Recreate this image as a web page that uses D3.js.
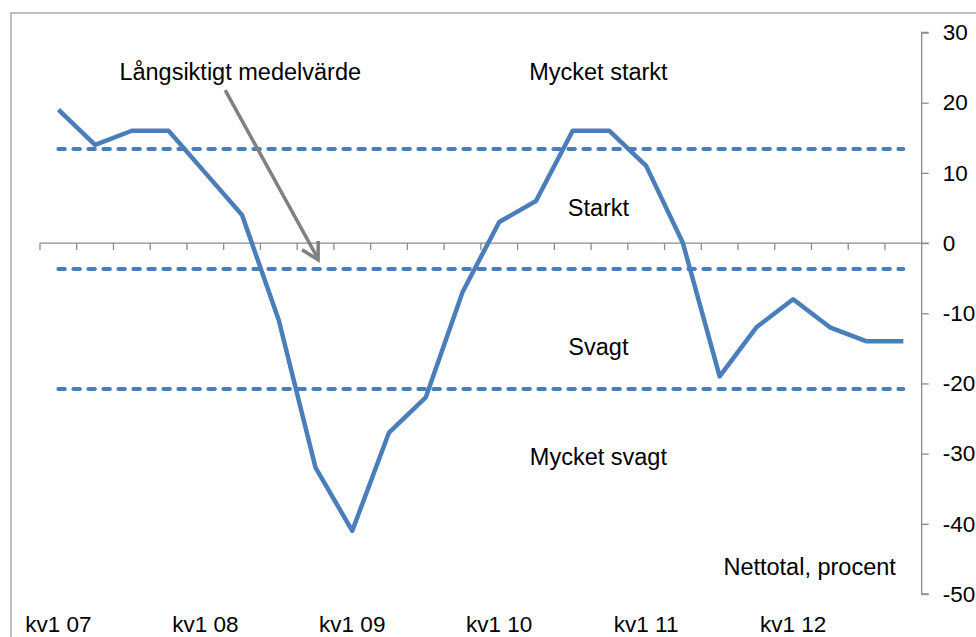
<!DOCTYPE html>
<html>
<head>
<meta charset="utf-8">
<script src="https://cdn.jsdelivr.net/npm/d3@7"></script>
<style>
  html, body { margin: 0; padding: 0; background: #fff; }
  svg { display: block; font-family: "Liberation Sans", Arial, sans-serif; }
</style>
</head>
<body>
<svg id="chart" width="976" height="637"></svg>
<script>
// ---- data ----
const categories = [
  "kv1 07","kv2 07","kv3 07","kv4 07",
  "kv1 08","kv2 08","kv3 08","kv4 08",
  "kv1 09","kv2 09","kv3 09","kv4 09",
  "kv1 10","kv2 10","kv3 10","kv4 10",
  "kv1 11","kv2 11","kv3 11","kv4 11",
  "kv1 12","kv2 12","kv3 12","kv4 12"
];
const values = [19, 14, 16, 16, 10, 4, -11, -32, -41, -27, -22, -7, 3, 6, 16, 16, 11, 0, -19, -12, -8, -12, -14, -14];
const thresholds = [13.4, -3.7, -20.8];          // dashed level lines
const yTicks = [30, 20, 10, 0, -10, -20, -30, -40, -50];
const xLabelCats = ["kv1 07","kv1 08","kv1 09","kv1 10","kv1 11","kv1 12"];
// annotation texts (position in category-index / value space)
const zoneLabels = [
  {text: "Mycket starkt", idx: 15.2, val: 23.3},
  {text: "Starkt",        idx: 15.2, val: 3.8},
  {text: "Svagt",         idx: 15.2, val: -16.0},
  {text: "Mycket svagt",  idx: 15.2, val: -31.6}
];
const meanLabel = {text: "Långsiktigt medelvärde", idx: 5.45, val: 23.3};
const arrowFrom = {idx: 5.04, val: 21.8};
const arrowTo   = {idx: 7.57, val: -2.4};
const unitLabel = {text: "Nettotal, procent", idx: 20.95, val: -47.3};

// ---- layout ----
const svg = d3.select("#chart");
const xLeft = 40, xRight = 921.7;
const x = d3.scaleBand().domain(categories).range([xLeft, xRight]);
const xc = d3.scaleLinear().domain([0, categories.length]).range([xLeft, xRight]);
const y = d3.scaleLinear().domain([-50, 30]).range([594, 32.5]);
const cx = c => x(c) + x.bandwidth() / 2;

// plot border (left and top visible)
svg.append("path")
  .attr("d", "M11,637V13H976")
  .attr("fill", "none").attr("stroke", "#ababab").attr("stroke-width", 1.5);

// zero axis with category ticks
const gx = svg.append("g").attr("transform", `translate(0,${y(0)})`);
gx.append("line").attr("x1", xLeft).attr("x2", xRight + 7).attr("y1", 0).attr("y2", 0)
  .attr("stroke", "#8c8c8c").attr("stroke-width", 1.3);
gx.selectAll("line.ct").data(d3.range(categories.length))
  .enter().append("line").attr("class", "ct")
  .attr("x1", i => xc(i)).attr("x2", i => xc(i)).attr("y1", 0).attr("y2", 7)
  .attr("stroke", "#8c8c8c").attr("stroke-width", 1.3);

// right y axis
const yAxis = d3.axisRight(y).tickValues(yTicks).tickSize(7).tickPadding(14).tickFormat(d => String(d));
const gy = svg.append("g").attr("transform", `translate(${xRight},0)`).call(yAxis);
gy.select(".domain").attr("stroke", "#8c8c8c").attr("stroke-width", 1.3)
  .attr("d", `M7,${y(30)}H0V${y(-50)}H7`);
gy.selectAll(".tick line").attr("stroke", "#8c8c8c").attr("stroke-width", 1.3);
gy.selectAll(".tick text").attr("font-size", 22.5).attr("fill", "#000")
  .attr("font-family", "Liberation Sans, Arial, sans-serif");

// x labels
svg.append("g").selectAll("text").data(xLabelCats).enter().append("text")
  .attr("x", d => cx(d)).attr("y", 632)
  .attr("text-anchor", "middle").attr("font-size", 22.5).attr("fill", "#000")
  .text(d => d);

// dashed threshold lines
svg.append("g").selectAll("line").data(thresholds).enter().append("line")
  .attr("x1", cx(categories[0])).attr("x2", cx(categories[categories.length - 1]))
  .attr("y1", d => y(d)).attr("y2", d => y(d))
  .attr("stroke", "#4a7ebb").attr("stroke-width", 4)
  .attr("stroke-linecap", "round").attr("stroke-dasharray", "6.5,8.5");

// main line
const line = d3.line().x((d, i) => cx(categories[i])).y(d => y(d));
svg.append("path").datum(values)
  .attr("d", line).attr("fill", "none")
  .attr("stroke", "#4a7ebb").attr("stroke-width", 4.5)
  .attr("stroke-linejoin", "round");

// zone labels
svg.append("g").selectAll("text").data(zoneLabels).enter().append("text")
  .attr("x", d => xc(d.idx)).attr("y", d => y(d.val))
  .attr("text-anchor", "middle").attr("font-size", 23.5).attr("fill", "#000")
  .text(d => d.text);

svg.append("text").attr("x", xc(meanLabel.idx)).attr("y", y(meanLabel.val))
  .attr("text-anchor", "middle").attr("font-size", 23.5).attr("fill", "#000")
  .text(meanLabel.text);

svg.append("text").attr("x", xc(unitLabel.idx)).attr("y", y(unitLabel.val))
  .attr("text-anchor", "middle").attr("font-size", 23.5).attr("fill", "#000")
  .text(unitLabel.text);

// arrow
const ax0 = xc(arrowFrom.idx), ay0 = y(arrowFrom.val);
const ax1 = xc(arrowTo.idx), ay1 = y(arrowTo.val);
svg.append("line").attr("x1", ax0).attr("y1", ay0).attr("x2", ax1).attr("y2", ay1 - 1)
  .attr("stroke", "#808080").attr("stroke-width", 3.5);
const ang = Math.atan2(ay0 - ay1, ax0 - ax1);
const aLen = 19, spread = 29 * Math.PI / 180;
const p1 = [ax1 + aLen * Math.cos(ang + spread), ay1 + aLen * Math.sin(ang + spread)];
const p2 = [ax1 + aLen * Math.cos(ang - spread), ay1 + aLen * Math.sin(ang - spread)];
svg.append("path")
  .attr("d", `M${p1[0]},${p1[1]}L${ax1},${ay1}L${p2[0]},${p2[1]}`)
  .attr("fill", "none").attr("stroke", "#808080").attr("stroke-width", 3.5)
  .attr("stroke-linejoin", "miter");
</script>
</body>
</html>
